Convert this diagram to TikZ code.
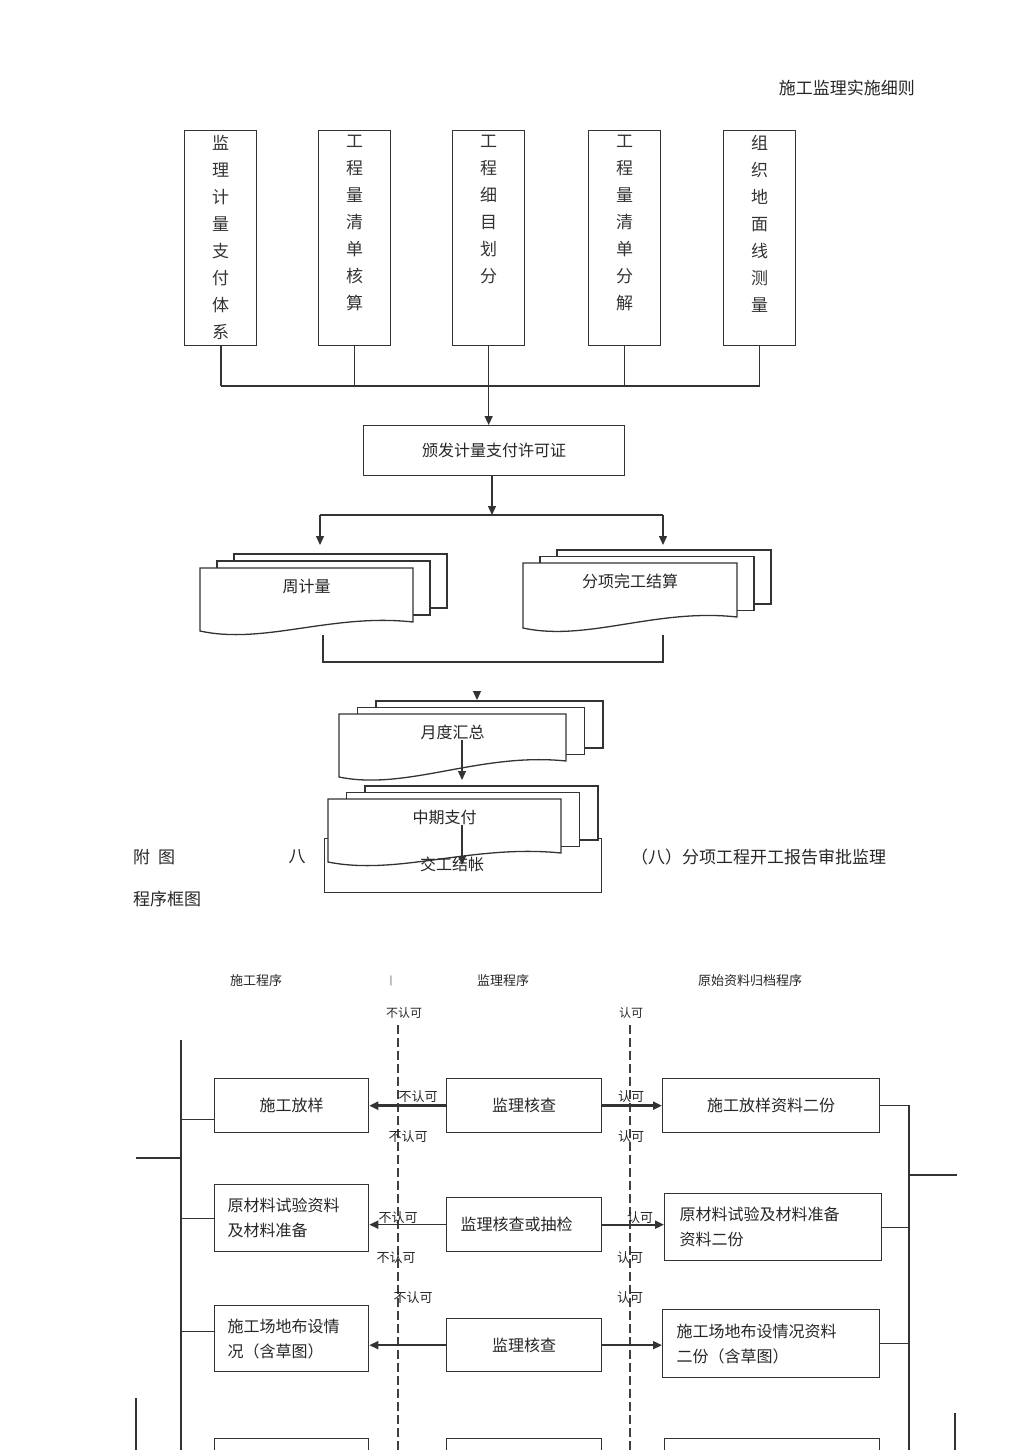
\documentclass[tikz,border=0pt]{standalone}
\usepackage{fontspec}
\setmainfont{Noto Sans CJK SC}
\usetikzlibrary{arrows.meta}
\usetikzlibrary{calc}
\usetikzlibrary{positioning}

\tikzset{
  x=1pt, y=-1pt,
  wire/.style={draw=black!80, line width=1.3pt},
  frame/.style={wire, inner sep=0pt, anchor=north west, text=black!85, font=\fontsize{16}{25}\selectfont},
  vbox/.style={frame, minimum width=72pt, minimum height=215pt},
  vtxt/.style={inner sep=0pt, align=center, text=black!80, font=\fontsize{17}{27}\selectfont},
  sheet/.style={wire, fill=white},
  arr/.style={wire, -{Triangle[length=9pt,width=8pt]}},
  tag/.style={inner sep=0pt, text=black!85, font=\fontsize{13}{13}\selectfont},
  say/.style={inner sep=0pt, text=black!85, font=\fontsize{16}{16}\selectfont},
  guide/.style={draw=black!75, line width=1.2pt, dash pattern=on 9pt off 4pt},
}

\newcommand\docstack[9]{%
  \foreach \k in {2,1}
    \path[sheet] (#2+\k*#7,#3-\k*#8) rectangle (#2+\k*#7+#4,#3-\k*#8+#5);
  \path[sheet] (#2,#3) -- (#2+#4,#3) -- (#2+#4,#3+#5)
    .. controls (#2+0.62*#4,#3+#5-9) and (#2+0.3*#4,#3+#5+#6+14) .. (#2,#3+#5+#6) -- cycle;
  \node[say] (#1) at (#2+0.5*#4,#3+18) {#9};
}

\begin{document}
\begin{tikzpicture}
\useasboundingbox (0,0) rectangle (1024,1450);
\clip (0,0) rectangle (1024,1450);
\node[say, anchor=east, font=\fontsize{17}{17}\selectfont] (title) at (915,88) {施工监理实施细则};

\foreach \x/\txt [count=\i] in {184/{监\\理\\计\\量\\支\\付\\体\\系}, 318/{工\\程\\量\\清\\单\\核\\算},
    452/{工\\程\\细\\目\\划\\分}, 588/{工\\程\\量\\清\\单\\分\\解}, 723/{组\\织\\地\\面\\线\\测\\量}}{
  \node[vbox] (v\i) at (\x,130) {};
  \node[vtxt, below=5pt of v\i.north] (vt\i) {\txt};
}
\coordinate (bus1) at (488,386);
\node[frame, minimum width=261pt, minimum height=50pt] (fa) at (363,425) {颁发计量支付许可证};
\foreach \i in {1,...,5} \draw[wire] (v\i.south) -- (v\i.south |- bus1);
\draw[wire, line width=2pt] (v1.south) -- (v1.south |- bus1);
\draw[wire] (v1.south |- bus1) -- (v5.south |- bus1);
\draw[arr] (v3.south |- bus1) -- (v3.south |- fa.north);

\coordinate (bus2) at (492,515);
\coordinate (zin) at (320,545);
\coordinate (fin) at (663,545);
\draw[arr] (fa.south -| bus2) -- (bus2);
\draw[wire] (zin |- bus2) -- (fin |- bus2);
\draw[arr] (zin |- bus2) -- (zin);
\draw[arr] (fin |- bus2) -- (fin);

\docstack{zhou}{200}{568}{213}{54}{9}{17}{7}{周计量}
\docstack{fx}{523}{563}{214}{54}{11}{17}{6.5}{分项完工结算}

\coordinate (zout) at (323,635);
\coordinate (fout) at (663,635);
\coordinate (bus3) at (493,662);
\draw[wire] (zout) -- (zout |- bus3) -- (fout |- bus3) -- (fout);
\coordinate (ydin) at (477,700);
\draw[arr] ($(ydin)+(0,-9)$) -- (ydin);

\node[frame, minimum width=277pt, minimum height=54pt] (jg) at (324,838) {};
\docstack{zq}{328}{799}{233}{54}{9}{18.5}{6.5}{中期支付}
\docstack{yd}{339}{714}{227}{47}{16}{18.5}{6.5}{月度汇总}
\node[say] (jgt) at (452,864) {交工结帐};
\coordinate (ydout) at (462,780);
\coordinate (zqout) at (462,865);
\draw[arr] (yd.south -| ydout) -- (ydout);
\draw[arr] (zq.south -| zqout) -- (zqout);

\node[say, anchor=west, font=\fontsize{17}{17}\selectfont] (fu) at (133,857) {附\hspace{8pt}图};
\node[say, font=\fontsize{17}{17}\selectfont] (ba) at (297,857) {八};
\node[say, anchor=west, font=\fontsize{17}{17}\selectfont] (cap) at (631,857) {（八）分项工程开工报告审批监理};
\node[say, anchor=west, font=\fontsize{17}{17}\selectfont] (cap2) at (133,899) {程序框图};

\node[tag] (h1) at (256,981) {施工程序};
\node[tag, font=\fontsize{9}{9}\selectfont] (h0) at (391,981) {|};
\node[tag] (h2) at (503,981) {监理程序};
\node[tag] (h3) at (750,981) {原始资料归档程序};
\node[tag, font=\fontsize{12}{12}\selectfont] (n0) at (404,1013) {不认可};
\node[tag, font=\fontsize{12}{12}\selectfont] (y0) at (631,1013) {认可};

\coordinate (bot) at (0,1460);
\coordinate (g1) at (398,1025);
\coordinate (g2) at (630,1025);
\draw[guide] (g1) -- (g1 |- bot);
\draw[guide] (g2) -- (g2 |- bot);

\node[frame, minimum width=154pt, minimum height=54pt] (r1a) at (214,1078) {施工放样};
\node[frame, minimum width=155pt, minimum height=54pt] (r1b) at (446,1078) {监理核查};
\node[frame, minimum width=217pt, minimum height=54pt] (r1c) at (662,1078) {施工放样资料二份};
\node[frame, minimum width=154pt, minimum height=67pt, inner xsep=13pt, text width=128pt, align=left] (r2a) at (214,1184) {原材料试验资料\\及材料准备};
\node[frame, minimum width=155pt, minimum height=54pt, inner xsep=14pt, text width=127pt, align=left] (r2b) at (446,1197) {监理核查或抽检};
\node[frame, minimum width=217pt, minimum height=67pt, inner xsep=15pt, text width=187pt, align=left] (r2c) at (664,1193) {原材料试验及材料准备\\资料二份};
\node[frame, minimum width=154pt, minimum height=66pt, inner xsep=13pt, text width=128pt, align=left] (r3a) at (214,1305) {施工场地布设情\\况（含草图）};
\node[frame, minimum width=155pt, minimum height=53pt] (r3b) at (446,1318) {监理核查};
\node[frame, minimum width=217pt, minimum height=68pt, inner xsep=14pt, text width=189pt, align=left] (r3c) at (662,1309) {施工场地布设情况资料\\二份（含草图）};
\node[frame, minimum width=154pt, minimum height=60pt] (r4a) at (214,1438) {};
\node[frame, minimum width=155pt, minimum height=60pt] (r4b) at (446,1438) {};
\node[frame, minimum width=215pt, minimum height=60pt] (r4c) at (664,1438) {};

\draw[arr, line width=2.6pt] (r1b.west) -- (r1b.west -| r1a.east);
\draw[arr, line width=2.6pt] (r1b.east) -- (r1b.east -| r1c.west);
\draw[arr, line width=1.6pt] (r2b.west) -- (r2b.west -| r2a.east);
\draw[arr, line width=2pt] (r2b.east) -- (r2b.east -| r2c.west);
\draw[arr, line width=1.6pt] (r3b.west) -- (r3b.west -| r3a.east);
\draw[arr, line width=1.6pt] (r3b.east) -- (r3b.east -| r3c.west);

\coordinate (lsp) at (181,1040);
\coordinate (rsp) at (909,1104);
\draw[wire] (lsp) -- (lsp |- bot);
\draw[wire] ($(r1a.south west)+(0,-14)$) -- ++(-33,0);
\draw[wire] (r2a.west) -- (r2a.west -| lsp);
\draw[wire] ($(r3a.west)+(0,-7)$) -- ++(-33,0);
\draw[wire] (r1c.east) -- (r1c.east -| rsp) -- (rsp |- bot);
\draw[wire] (r2c.east) -- (r2c.east -| rsp);
\draw[wire] (r3c.east) -- (r3c.east -| rsp);
\coordinate (ls) at (136,1158);
\draw[wire] (ls) -- (ls -| lsp);
\coordinate (rs) at (957,1175);
\draw[wire] (rs -| rsp) -- (rs);
\coordinate (lb) at (136,1398);
\draw[wire] (lb) -- (lb |- bot);
\coordinate (rb) at (955,1413);
\draw[wire] (rb) -- (rb |- bot);

\node[tag] (n1) at (418,1097) {不认可};
\node[tag] (n2) at (408,1137) {不认可};
\node[tag] (y1) at (631,1097) {认可};
\node[tag] (y2) at (631,1137) {认可};
\node[tag] (n3) at (398,1218) {不认可};
\node[tag] (y3) at (640,1218) {认可};
\node[tag] (n4) at (396,1258) {不认可};
\node[tag] (y4) at (630,1258) {认可};
\node[tag] (n5) at (413,1298) {不认可};
\node[tag] (y5) at (630,1298) {认可};
\end{tikzpicture}
\end{document}
